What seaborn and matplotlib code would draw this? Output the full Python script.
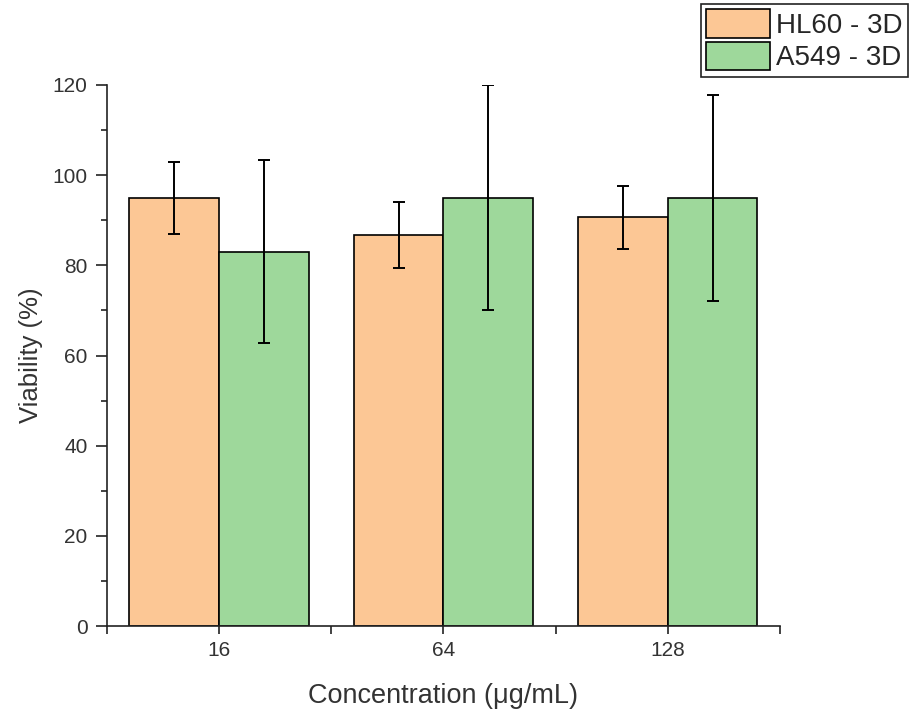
import pandas as pd
import seaborn as sns
import matplotlib.pyplot as plt
from matplotlib.ticker import MultipleLocator

# values
concentrations = ['16', '64', '128']
series_names = ['HL60 - 3D', 'A549 - 3D']
hl60_mean = [95.0, 86.7, 90.7]
hl60_err = [8.0, 7.4, 7.0]
a549_mean = [83.0, 95.0, 95.0]
a549_err = [20.3, 25.0, 22.8]

data = pd.DataFrame({
    'Concentration': concentrations * 2,
    'Series': [series_names[0]] * 3 + [series_names[1]] * 3,
    'Viability': hl60_mean + a549_mean,
    'Err': hl60_err + a549_err,
})

sns.set_style('ticks')
plt.rcParams['font.family'] = ['Liberation Sans', 'DejaVu Sans']

fig = plt.figure(figsize=(9.11, 7.19), dpi=100)
ax = fig.add_axes([0.1175, 0.1293, 0.7385, 0.7525])

palette = ['#FCC795', '#9ED89B']
sns.barplot(data=data, x='Concentration', y='Viability', hue='Series',
            order=concentrations, hue_order=series_names, palette=palette,
            errorbar=None, edgecolor='black', linewidth=1.2, saturation=1,
            ax=ax)

# error bars centred on each bar
for container, name in zip(ax.containers, series_names):
    sub = data[data['Series'] == name].set_index('Concentration').loc[concentrations]
    xs = [p.get_x() + p.get_width() / 2 for p in container.patches]
    ax.errorbar(xs, sub['Viability'], yerr=sub['Err'], fmt='none',
                ecolor='black', elinewidth=1.4, capsize=4, capthick=1.4, zorder=5)

ax.set_xlim(-0.5, 2.5)
ax.set_ylim(0, 120)
ax.yaxis.set_major_locator(MultipleLocator(20))
ax.yaxis.set_minor_locator(MultipleLocator(10))
ax.set_xticks([-0.5, 0.5, 1.5, 2.5], minor=True)
ax.tick_params(which='both', direction='out', width=1.2, colors='#222222',
               labelsize=15, labelcolor='#333333')
ax.tick_params(axis='y', which='major', length=8, pad=6)
ax.tick_params(axis='y', which='minor', length=4.5)
ax.tick_params(axis='x', which='both', length=5.5, pad=5)
sns.despine(ax=ax)
for side in ['left', 'bottom']:
    ax.spines[side].set_linewidth(1.2)
    ax.spines[side].set_color('#222222')

ax.set_xlabel('Concentration (\u03bcg/mL)', fontsize=19.5, color='#333333', labelpad=17)
ax.set_ylabel('Viability (%)', fontsize=18.5, color='#333333', labelpad=7)

ax.legend(loc='upper right', bbox_to_anchor=(0.9965, 0.995),
          bbox_transform=fig.transFigure, fontsize=20, frameon=True,
          fancybox=False, edgecolor='#222222', framealpha=1,
          handlelength=2.3, handleheight=1.2, handletextpad=0.2,
          borderpad=0.2, labelspacing=0.1, borderaxespad=0)
ax.get_legend().get_frame().set_linewidth(1.2)

plt.savefig('out.png', dpi=100)
plt.close()
